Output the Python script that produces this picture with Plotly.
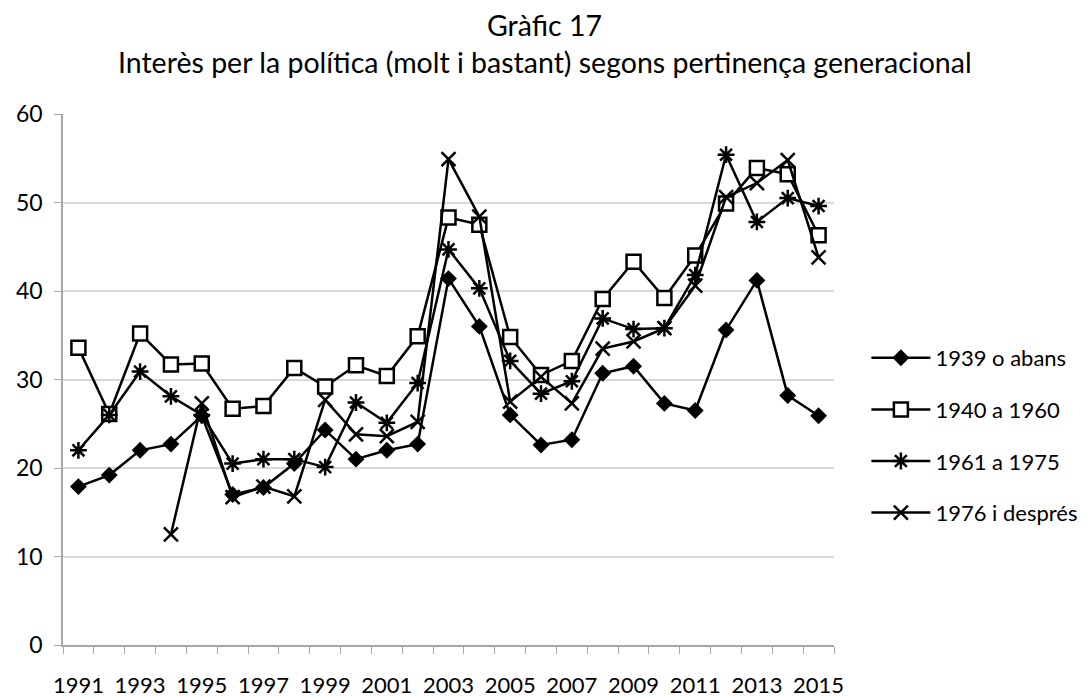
import plotly.graph_objects as go

# Interès per la política (molt i bastant) segons generació
anys = list(range(1991, 2016))

gen_1939 = [17.9, 19.2, 22.0, 22.7, 25.9, 17.0, 17.8, 20.5, 24.3, 21.0,
            22.0, 22.7, 41.4, 36.0, 26.0, 22.6, 23.2, 30.7, 31.5, 27.3,
            26.5, 35.6, 41.2, 28.2, 25.9]
gen_1940 = [33.6, 26.1, 35.2, 31.7, 31.8, 26.7, 27.0, 31.3, 29.2, 31.6,
            30.4, 34.9, 48.3, 47.5, 34.8, 30.5, 32.1, 39.1, 43.3, 39.2,
            44.0, 49.9, 53.9, 53.2, 46.3]
gen_1961 = [22.0, 26.0, 30.9, 28.1, 26.0, 20.5, 21.0, 21.0, 20.1, 27.4,
            25.1, 29.6, 44.7, 40.3, 32.1, 28.4, 29.8, 36.9, 35.7, 35.8,
            41.8, 55.4, 47.8, 50.5, 49.6]
gen_1976 = [None, None, None, 12.5, 27.3, 16.7, 17.9, 16.8, 27.7, 23.8,
            23.6, 25.2, 54.9, 48.4, 27.5, 30.3, 27.3, 33.5, 34.3, 35.8,
            40.6, 50.6, 52.2, 54.8, 43.8]

noms = ["1939 o abans", "1940 a 1960", "1961 a 1975", "1976 i després"]
etiquetes_x = [str(a) for a in range(1991, 2016, 2)]

titol1 = "Gràfic 17"
titol2 = "Interès per la política (molt i bastant) segons pertinença generacional"

font = "Lato, Calibri, sans-serif"

series = [
    (gen_1939, noms[0], dict(symbol="diamond", size=13, color="black")),
    (gen_1940, noms[1], dict(symbol="square", size=14, color="white",
                             line=dict(color="black", width=2.5))),
    (gen_1961, noms[2], dict(symbol="asterisk-open", size=14, color="black",
                             line=dict(color="black", width=2.5))),
    (gen_1976, noms[3], dict(symbol="x-thin-open", size=14, color="black",
                             line=dict(color="black", width=2.5))),
]

fig = go.Figure()
for i, (vals, nom, marker) in enumerate(series):
    fig.add_trace(go.Scatter(
        x=anys, y=vals, name=nom, mode="lines+markers",
        line=dict(color="black", width=2.5), marker=marker,
        legendgroup=str(i),
    ))

# la pàgina té 8 px de marge, per això 1081x690
fig.update_layout(
    width=1081, height=690,
    paper_bgcolor="white", plot_bgcolor="white",
    margin=dict(l=55, r=255, t=106, b=53, autoexpand=False),
    font=dict(family=font, color="black", size=22),
    legend=dict(
        x=1.042, xanchor="left", y=0.58, yanchor="top",
        traceorder="grouped", tracegroupgap=20,
        font=dict(size=22, family=font), itemwidth=59,
        bgcolor="rgba(0,0,0,0)",
    ),
    showlegend=True,
)

# títol en dues línies
fig.add_annotation(text=titol1, xref="paper", yref="paper", x=0.625, y=1.1676,
                   yanchor="middle", showarrow=False, font=dict(size=28.5, family=font))
fig.add_annotation(text=titol2, xref="paper", yref="paper", x=0.625, y=1.098,
                   yanchor="middle", showarrow=False, font=dict(size=28.5, family=font))

fig.update_xaxes(
    range=[1990.5, 2015.5],
    tickvals=list(range(1991, 2016, 2)), ticktext=etiquetes_x,
    ticks="outside", ticklen=20, tickcolor="rgba(0,0,0,0)",
    showgrid=False, zeroline=False,
    showline=True, linecolor="#a6a6a6", linewidth=1.5,
    minor=dict(tick0=1990.5, dtick=1, ticks="outside", ticklen=7,
               tickcolor="#a6a6a6", showgrid=False),
    tickfont=dict(size=22),
)
fig.update_yaxes(
    range=[0, 60], dtick=10,
    ticks="outside", ticklen=7, tickcolor="#a6a6a6",
    ticklabelstandoff=7,
    showgrid=True, gridcolor="#d9d9d9", gridwidth=1.5,
    zeroline=False, showline=True, linecolor="#a6a6a6", linewidth=1.5,
    tickfont=dict(size=23),
)

fig.write_html("out.html")
